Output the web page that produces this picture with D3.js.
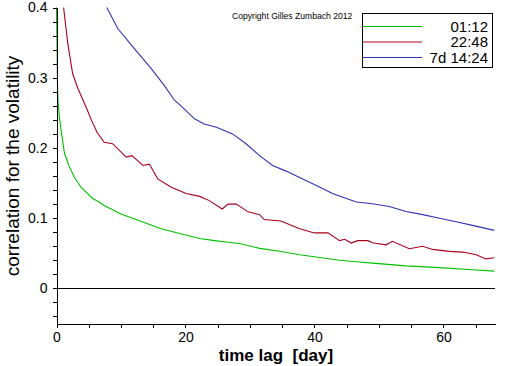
<!DOCTYPE html>
<html>
<head>
<meta charset="utf-8">
<script src="https://cdn.jsdelivr.net/npm/d3@7"></script>
<style>
  body { margin: 0; background: #fff; }
  svg { display: block; font-family: "Liberation Sans", Arial, sans-serif; }
  .axis path, .axis line { stroke: #000; shape-rendering: crispEdges; }
  .axis text { font-size: 14px; fill: #000; }
</style>
</head>
<body>
<svg width="512" height="366"></svg>
<script>
// series: [time lag (day), correlation]
var green = [[0,0.40],[0.1,0.33],[0.15,0.29],[0.25,0.265],[0.47,0.242],[0.72,0.225],[1.24,0.192],[2.0,0.173],
  [2.8,0.158],[3.8,0.144],[5.6,0.128],[6.4,0.124],[7.4,0.118],[10,0.106],[13.3,0.095],[16.2,0.085],[18.8,0.079],
  [22.2,0.071],[24.5,0.068],[26.3,0.066],[28.4,0.064],[31.5,0.057],[34.6,0.053],[37.7,0.048],[40.8,0.044],
  [43.9,0.040],[46.5,0.038],[49,0.036],[54.2,0.032],[59.4,0.0295],[64.5,0.0266],[67.9,0.0246]];
var red = [[1.1,0.40],[1.75,0.349],[2.5,0.306],[3.3,0.285],[4.6,0.258],[5.4,0.240],[6.3,0.222],[7.4,0.208],
  [8.7,0.206],[10.8,0.187],[11.7,0.189],[13.4,0.175],[14.4,0.177],[15.7,0.156],[17.8,0.144],[20.1,0.135],
  [22.2,0.131],[23.7,0.125],[25.7,0.113],[26.6,0.120],[27.9,0.120],[29.7,0.109],[31.5,0.105],[32.2,0.098],
  [34.8,0.096],[36.1,0.091],[37.7,0.085],[40,0.079],[42.1,0.079],[43.9,0.068],[44.7,0.070],[45.7,0.0645],
  [46.7,0.068],[48.3,0.068],[49,0.065],[51.1,0.062],[52.1,0.067],[54.7,0.0565],[56.8,0.060],[58.3,0.0555],
  [60.9,0.0527],[63,0.0517],[65.1,0.048],[66.6,0.042],[67.9,0.0437]];
var blue = [[7.8,0.40],[9.5,0.370],[12.1,0.341],[14.7,0.313],[16.7,0.289],[18.3,0.268],[19.3,0.260],[21.4,0.2415],
  [22.9,0.234],[24.8,0.2296],[27.3,0.220],[29.4,0.206],[31.5,0.189],[33.5,0.175],[35.6,0.167],[37.7,0.158],
  [40.3,0.1466],[42.8,0.135],[45.4,0.1267],[46.5,0.123],[49,0.1206],[51.6,0.1167],[54.2,0.1096],[56.8,0.105],
  [59.4,0.100],[62,0.095],[64.5,0.0897],[67.9,0.0826]];
var seriesNames = ["01:12", "22:48", "7d 14:24"];
var seriesColors = ["#00c000", "#a8001e", "#3232b4"];
var xTicks = d3.range(0, 68, 5);
var yTicks = d3.range(-0.04, 0.4001, 0.02);

var svg = d3.select("svg");
var x = d3.scaleLinear().domain([0, 68]).range([56.5, 495]);
var y = d3.scaleLinear().domain([-0.05, 0.4]).range([323.5, 7.5]);

svg.append("defs").append("clipPath").attr("id", "plot")
  .append("rect").attr("x", 56).attr("y", 7).attr("width", 440).attr("height", 317);

// zero line
svg.append("line")
  .attr("x1", x(0)).attr("x2", x(68))
  .attr("y1", y(0)).attr("y2", y(0))
  .attr("stroke", "#000").attr("shape-rendering", "crispEdges");

var line = d3.line().x(function(d) { return x(d[0]); }).y(function(d) { return y(d[1]); });

svg.append("g").attr("clip-path", "url(#plot)")
  .selectAll("path")
  .data([green, red, blue])
  .enter().append("path")
  .attr("d", line)
  .attr("fill", "none")
  .attr("stroke", function(d, i) { return seriesColors[i]; })
  .attr("stroke-width", 1.1);

svg.append("g").attr("class", "axis")
  .attr("transform", "translate(0," + y(-0.05) + ")")
  .call(d3.axisBottom(x).tickValues(xTicks).tickSize(4).tickSizeOuter(0)
    .tickFormat(function(d) { return d % 20 === 0 ? d : ""; }))
  .call(function(g) { g.selectAll("text").attr("y", 6).attr("dy", "0.9em"); });

svg.append("g").attr("class", "axis")
  .attr("transform", "translate(" + x(0) + ",0)")
  .call(d3.axisLeft(y).tickValues(yTicks).tickSize(4).tickSizeOuter(0)
    .tickFormat(function(d) {
      var r = Math.round(d * 100);
      return r % 10 === 0 ? (r === 0 ? "0" : d3.format(".1f")(d)) : "";
    }))
  .call(function(g) { g.selectAll("text").attr("x", -9); });

svg.append("text")
  .attr("transform", "translate(19,166) rotate(-90)")
  .attr("text-anchor", "middle")
  .style("font-size", "19px")
  .text("correlation for the volatility");

svg.append("text")
  .attr("x", 276).attr("y", 361)
  .attr("text-anchor", "middle")
  .style("font-size", "17px").style("font-weight", "bold")
  .attr("xml:space", "preserve")
  .text("time lag  [day]");

svg.append("text")
  .attr("x", 232).attr("y", 19)
  .style("font-size", "8.6px")
  .text("Copyright Gilles Zumbach 2012");

// legend
var legend = svg.append("g");
legend.append("rect")
  .attr("x", 362.5).attr("y", 13.5).attr("width", 130).attr("height", 54)
  .attr("fill", "#fff").attr("stroke", "#000");
var item = legend.selectAll(".item").data(seriesNames).enter().append("g")
  .attr("transform", function(d, i) { return "translate(0," + (26 + i * 15.5) + ")"; });
item.append("line")
  .attr("x1", 363).attr("x2", 422).attr("y1", 0.5).attr("y2", 0.5)
  .attr("stroke", function(d, i) { return seriesColors[i]; });
item.append("text")
  .attr("x", 488).attr("y", 5.5)
  .attr("text-anchor", "end")
  .style("font-size", "15px")
  .attr("xml:space", "preserve")
  .text(function(d) { return d; });
</script>
</body>
</html>
